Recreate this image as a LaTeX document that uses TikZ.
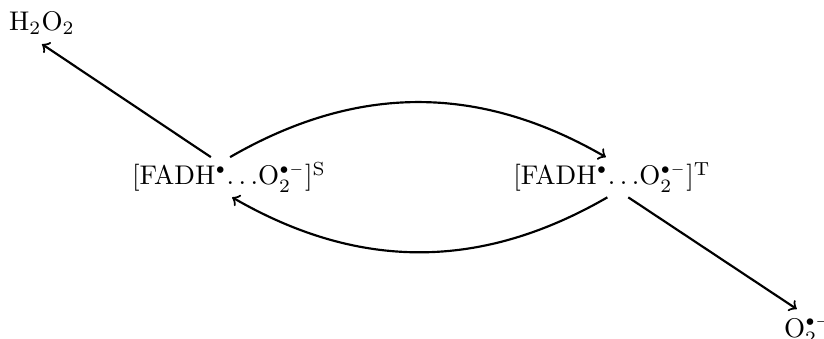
\documentclass[tikz,border=0pt]{standalone}
\usepackage{amsmath,amssymb}
\usepackage{tikz}
\newcommand{\rad}{{\scriptscriptstyle\bullet}}
\newcommand{\radan}{{\scriptscriptstyle\bullet-}}

\begin{document}
\begin{tikzpicture}[x=0.37pt,y=-0.37pt,->,line width=0.8pt,
  species/.style={inner sep=1.5pt,anchor=base}]
\useasboundingbox (0,0) rectangle (824,339);
\node[species,inner sep=3.33pt] (h2o2) at (42,30) {$\mathrm{H_2O_2}$};
\node[species] (singlet) at (229,185) {$[\mathrm{FADH}^{\rad}{\ldots}\mathrm{O}_2^{\radan}]^{\mathrm{S}}$};
\node[species] (triplet) at (612,185) {$[\mathrm{FADH}^{\rad}{\ldots}\mathrm{O}_2^{\radan}]^{\mathrm{T}}$};
\node[species,inner sep=3.33pt,anchor=base west] (o2) at (774,337) {$\mathrm{O}_2^{\radan}$};
\draw (singlet.132) -- (h2o2.south);
\draw (singlet.87) to[bend left=30] (triplet.107);
\draw (triplet.-103) to[bend left=30] (singlet.-81);
\draw (triplet.-51) -- ([xshift=-4pt,yshift=-1pt]o2.north);
\end{tikzpicture}
\end{document}
